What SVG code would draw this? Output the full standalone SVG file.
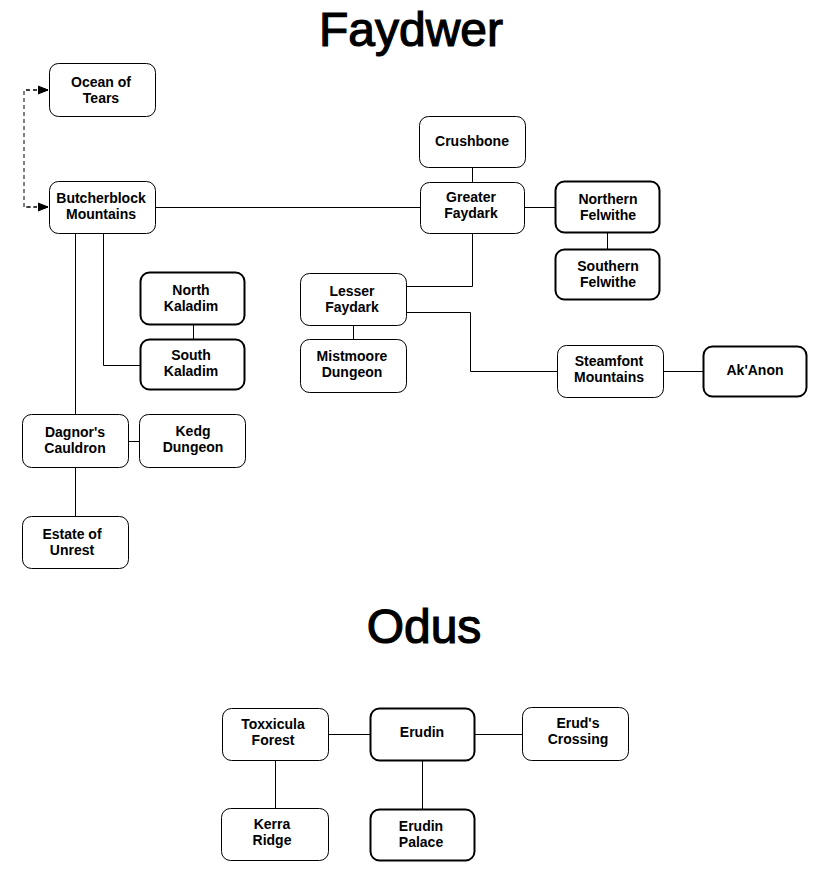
<svg xmlns="http://www.w3.org/2000/svg" width="818" height="876" viewBox="0 0 818 876">
<style>
.n rect{fill:#fff;stroke:#000;stroke-width:1}
.n.k rect{stroke-width:2}
.n text{font-family:"Liberation Sans",Arial,sans-serif;font-weight:bold;font-size:14px;text-anchor:middle;fill:#000}
.t{font-family:"Liberation Sans",Arial,sans-serif;font-weight:normal;font-size:48px;text-anchor:middle;fill:#000;stroke:#000;stroke-width:1.2}
#connectors path{fill:none;stroke:#000;stroke-width:1}
#connectors .d{stroke-dasharray:4 3}
</style>
<defs>
<marker id="ah" markerWidth="12" markerHeight="10" refX="10" refY="5" orient="auto" markerUnits="userSpaceOnUse">
<path d="M0,1 L10,5 L0,9 M3,3 L10,5 L3,7 Z" fill="#000" stroke="#000" stroke-width="1"/>
</marker>
</defs>
<rect width="818" height="876" fill="#fff"/>
<text class="t" x="411" y="46">Faydwer</text>
<text class="t" x="424" y="643">Odus</text>
<g id="connectors">
<path class="d" d="M37,90 H24 V207 H37"/>
<path d="M26,90 H48" class="d" marker-end="url(#ah)"/>
<path d="M26,207 H48" class="d" marker-end="url(#ah)"/>
<path d="M155,207.5 H420"/>
<path d="M472.5,167 V182"/>
<path d="M524,207.5 H555"/>
<path d="M607.5,232 V249"/>
<path d="M472.5,233 V286.5 H406"/>
<path d="M353.5,325 V339"/>
<path d="M406,312.5 H470.5 V371.5 H557"/>
<path d="M663,371.5 H703"/>
<path d="M75.5,233 V414"/>
<path d="M103.5,233 V365.5 H140"/>
<path d="M193.5,324 V339"/>
<path d="M128,441.5 H139"/>
<path d="M75.5,467 V516"/>
<path d="M328,734.5 H370"/>
<path d="M475,734.5 H522"/>
<path d="M275.5,760 V808"/>
<path d="M422.5,760 V809"/>
</g>
<g id="ocean-of-tears" class="n"><rect x="49.5" y="63.5" width="106" height="53" rx="9"/><text x="101" y="87">Ocean of</text><text x="101" y="103">Tears</text></g>
<g id="butcherblock-mountains" class="n"><rect x="49.5" y="181.5" width="106" height="52" rx="9"/><text x="101" y="203">Butcherblock</text><text x="101" y="219">Mountains</text></g>
<g id="crushbone" class="n"><rect x="419.5" y="116.5" width="106" height="51" rx="9"/><text x="472" y="146">Crushbone</text></g>
<g id="greater-faydark" class="n"><rect x="420.5" y="182.5" width="104" height="51" rx="9"/><text x="471" y="202">Greater</text><text x="471" y="218">Faydark</text></g>
<g id="northern-felwithe" class="n k"><rect x="555.5" y="181.5" width="104" height="51" rx="9"/><text x="608" y="204">Northern</text><text x="608" y="220">Felwithe</text></g>
<g id="southern-felwithe" class="n k"><rect x="555.5" y="249.5" width="104" height="50" rx="9"/><text x="608" y="271">Southern</text><text x="608" y="287">Felwithe</text></g>
<g id="north-kaladim" class="n k"><rect x="140.5" y="272.5" width="104" height="52" rx="9"/><text x="191" y="295">North</text><text x="191" y="311">Kaladim</text></g>
<g id="south-kaladim" class="n k"><rect x="140.5" y="339.5" width="104" height="50" rx="9"/><text x="191" y="360">South</text><text x="191" y="376">Kaladim</text></g>
<g id="lesser-faydark" class="n"><rect x="300.5" y="273.5" width="106" height="52" rx="9"/><text x="352" y="296">Lesser</text><text x="352" y="312">Faydark</text></g>
<g id="mistmoore-dungeon" class="n"><rect x="300.5" y="339.5" width="106" height="53" rx="9"/><text x="352" y="361">Mistmoore</text><text x="352" y="377">Dungeon</text></g>
<g id="steamfont-mountains" class="n"><rect x="557.5" y="345.5" width="106" height="52" rx="9"/><text x="609" y="366">Steamfont</text><text x="609" y="382">Mountains</text></g>
<g id="ak-anon" class="n k"><rect x="703.5" y="346.5" width="103" height="50" rx="9"/><text x="755" y="375">Ak'Anon</text></g>
<g id="dagnors-cauldron" class="n"><rect x="22.5" y="414.5" width="106" height="53" rx="9"/><text x="75" y="437">Dagnor's</text><text x="75" y="453">Cauldron</text></g>
<g id="kedg-dungeon" class="n"><rect x="139.5" y="414.5" width="106" height="53" rx="9"/><text x="193" y="436">Kedg</text><text x="193" y="452">Dungeon</text></g>
<g id="estate-of-unrest" class="n"><rect x="22.5" y="516.5" width="106" height="52" rx="9"/><text x="72" y="539">Estate of</text><text x="72" y="555">Unrest</text></g>
<g id="toxxicula-forest" class="n"><rect x="222.5" y="708.5" width="106" height="52" rx="9"/><text x="273" y="729">Toxxicula</text><text x="273" y="745">Forest</text></g>
<g id="erudin" class="n k"><rect x="370.5" y="708.5" width="104" height="52" rx="9"/><text x="422" y="737">Erudin</text></g>
<g id="eruds-crossing" class="n"><rect x="522.5" y="707.5" width="106" height="53" rx="9"/><text x="578" y="728">Erud's</text><text x="578" y="744">Crossing</text></g>
<g id="kerra-ridge" class="n"><rect x="221.5" y="808.5" width="107" height="52" rx="9"/><text x="272" y="829">Kerra</text><text x="272" y="845">Ridge</text></g>
<g id="erudin-palace" class="n k"><rect x="370.5" y="809.5" width="104" height="51" rx="9"/><text x="421" y="831">Erudin</text><text x="421" y="847">Palace</text></g>
</svg>
